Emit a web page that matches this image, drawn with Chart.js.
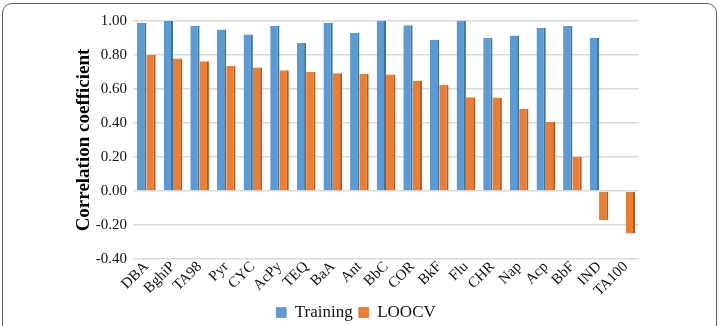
<!DOCTYPE html>
<html>
<head>
<meta charset="utf-8">
<script src="https://cdn.jsdelivr.net/npm/chart.js@4"></script>
<style>
  html, body { margin: 0; padding: 0; background: #fff; overflow: hidden; }
  #frame {
    position: absolute; left: 2px; top: 3px; width: 715px; height: 340px;
    border: 1.5px solid #606060; border-radius: 10px; box-sizing: border-box;
  }
  #wrap { position: absolute; left: 0; top: 0; width: 719px; height: 326px; }
</style>
</head>
<body>
<div id="frame"></div>
<div id="wrap"><canvas id="chartCorrelation"></canvas></div>
<script>
// compounds / endpoints on the x axis
let compounds = ["DBA", "BghiP", "TA98", "Pyr", "CYC", "AcPy", "TEQ", "BaA", "Ant", "BbC",
    "COR", "BkF", "Flu", "CHR", "Nap", "Acp", "BbF", "IND", "TA100"];
// correlation coefficients
let trainingValues = [0.99, 1.00, 0.97, 0.95, 0.92, 0.97, 0.87, 0.99, 0.93, 1.00,
    0.975, 0.89, 1.00, 0.90, 0.915, 0.96, 0.97, 0.90, -0.005];
let loocvValues = [0.80, 0.78, 0.763, 0.737, 0.726, 0.71, 0.702, 0.692, 0.69, 0.685,
    0.649, 0.625, 0.552, 0.55, 0.483, 0.406, 0.20, -0.17, -0.25];
let yTicks = [-0.4, -0.2, 0, 0.2, 0.4, 0.6, 0.8, 1.0];

const serif = "'Liberation Serif', 'Times New Roman', serif";

let ctxCorr = document.getElementById("chartCorrelation").getContext("2d");
let chartCorr = new Chart(ctxCorr, {
    type: 'bar',
    data: {
        labels: compounds,
        datasets: [
            {
                label: 'Training',
                data: trainingValues,
                backgroundColor: '#5B9BD5',
                borderColor: '#41719C',
                borderWidth: { right: 2, top: 0, left: 0, bottom: 0 },
                borderSkipped: false
            },
            {
                label: 'LOOCV',
                data: loocvValues,
                backgroundColor: '#ED7D31',
                borderColor: '#B05A20',
                borderWidth: { right: 2, top: 0, left: 0, bottom: 0 },
                borderSkipped: false
            }
        ]
    },
    options: {
        responsive: true,
        maintainAspectRatio: false,
        animation: false,
        datasets: {
            bar: { categoryPercentage: 0.7, barPercentage: 1.0 }
        },
        layout: {
            padding: { left: 73, right: 80, top: 21, bottom: -5 }
        },
        scales: {
            x: {
                grid: { display: false },
                border: { display: false },
                afterFit: (axis) => { axis.height = 39; },
                ticks: {
                    color: '#111',
                    font: { family: serif, size: 15 },
                    autoSkip: false,
                    minRotation: 45,
                    maxRotation: 45,
                    padding: -9
                }
            },
            y: {
                min: -0.4,
                max: 1.0,
                afterBuildTicks: (axis) => {
                    axis.ticks = yTicks.map(v => ({ value: v }));
                },
                grid: { color: '#d9d9d9', lineWidth: 1.5, drawTicks: false },
                border: { display: false },
                ticks: {
                    color: '#111',
                    font: { family: serif, size: 15 },
                    padding: 6,
                    callback: (v) => Number(v).toFixed(2)
                },
                title: {
                    display: true,
                    text: 'Correlation coefficient',
                    color: '#000',
                    font: { family: serif, size: 19, weight: 'bold' },
                    padding: { top: 0, bottom: -6 }
                }
            }
        },
        plugins: {
            legend: {
                position: 'bottom',
                labels: {
                    color: '#111',
                    font: { family: serif, size: 17 },
                    boxWidth: 10,
                    boxHeight: 10,
                    padding: 6
                }
            },
            tooltip: { enabled: false }
        }
    }
});
</script>
</body>
</html>
